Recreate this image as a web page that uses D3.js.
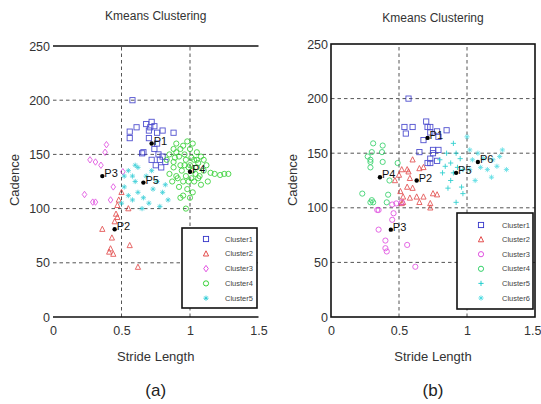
<!DOCTYPE html>
<html><head><meta charset="utf-8">
<script src="https://cdn.jsdelivr.net/npm/d3@7"></script>
<style>body{margin:0;background:#fff}svg{display:block}text{font-family:"Liberation Sans",Arial,sans-serif}</style>
</head><body>
<script>
// ---------- data (Stride Length, Cadence) ----------
const xTicks = [0, 0.5, 1, 1.5];
const yTicks = [0, 50, 100, 150, 200, 250];

// (a) five clusters
const aCluster1 = [[0.58,200],[0.56,171],[0.56,165],[0.61,175],[0.68,178],[0.72,180],[0.70,172],[0.74,176],[0.76,170],[0.80,172],[0.88,170],[0.66,152],[0.74,155],[0.77,150],[0.78,145],[0.80,148],[0.82,143],[0.75,140],[0.72,145],[0.79,138],[0.70,165],[0.76,160],[0.65,151],[0.71,175]];
const aCluster2 = [[0.47,103],[0.46,95],[0.47,92],[0.45,88],[0.36,81],[0.43,73],[0.42,63],[0.44,58],[0.41,60],[0.56,66],[0.62,46],[0.48,108],[0.50,115],[0.55,100]];
const aCluster3 = [[0.39,159],[0.38,152],[0.27,145],[0.31,143],[0.23,113],[0.31,106],[0.42,108],[0.51,134],[0.29,106],[0.44,120],[0.35,140]];
const aCluster4 = [[0.85,150],[0.88,155],[0.90,160],[0.92,148],[0.95,158],[0.98,162],[1.00,155],[1.02,160],[1.05,152],[1.08,148],[1.10,145],[1.03,145],[0.97,145],[0.93,140],[0.88,138],[0.85,132],[0.87,125],[0.90,130],[0.92,120],[0.95,125],[0.97,130],[1.00,140],[1.02,135],[1.05,138],[1.07,130],[1.10,135],[1.12,140],[1.15,133],[1.18,132],[1.22,131],[1.25,132],[1.28,132],[1.13,125],[1.08,122],[1.03,125],[0.98,118],[0.95,112],[0.93,110],[1.00,110],[1.02,115],[0.97,100],[0.88,143],[0.83,145],[0.90,152],[1.05,145],[0.99,138],[0.94,135],[1.06,128],[0.91,128],[1.01,128],[0.96,150],[1.04,132],[0.99,125],[0.93,155],[1.01,147],[0.89,147],[0.96,140],[1.06,142]];
const aCluster5 = [[0.55,135],[0.58,130],[0.62,138],[0.60,125],[0.52,120],[0.55,112],[0.58,108],[0.62,115],[0.66,110],[0.70,105],[0.73,118],[0.76,125],[0.80,115],[0.84,108],[0.78,102],[0.68,130],[0.72,135],[0.50,105],[0.65,100],[0.52,130],[0.60,140],[0.82,122]];
const aCentroids = [["P1",0.72,160],["P2",0.45,81],["P3",0.36,130],["P4",1.0,134],["P5",0.66,124]];

// (b) six clusters
const bCluster1 = [[0.57,200],[0.54,174],[0.55,168],[0.60,174],[0.70,179],[0.73,174],[0.78,170],[0.65,151],[0.75,150],[0.78,143],[0.73,145],[0.71,141],[0.85,171],[0.68,162],[0.73,169],[0.79,165],[0.71,174],[0.75,153],[0.79,153],[0.73,141]];
const bCluster2 = [[0.60,144],[0.68,137],[0.56,135],[0.52,135],[0.57,133],[0.58,127],[0.56,119],[0.51,115],[0.53,110],[0.58,109],[0.63,110],[0.60,118],[0.68,110],[0.75,113],[0.78,112],[0.73,104],[0.65,136],[0.52,104],[0.73,100],[0.65,105],[0.53,105],[0.47,125],[0.50,130]];
const bCluster3 = [[0.35,98],[0.45,103],[0.46,95],[0.45,89],[0.35,80],[0.40,70],[0.40,63],[0.41,60],[0.56,66],[0.62,46],[0.48,104],[0.52,105],[0.34,98]];
const bCluster4 = [[0.31,159],[0.30,151],[0.27,147],[0.29,142],[0.375,151],[0.38,142],[0.29,144],[0.29,137],[0.38,157],[0.23,113],[0.30,107],[0.31,105],[0.42,112],[0.43,125],[0.49,141],[0.29,105],[0.41,105]];
const bCluster5 = [[0.90,159],[0.85,150],[0.80,144],[0.88,141],[0.82,132],[0.88,125],[0.96,119],[0.97,113],[0.97,135],[0.93,137],[0.90,132],[0.86,118],[0.92,105],[0.84,138],[0.95,145],[0.92,150]];
const bCluster6 = [[1.00,165],[1.02,153],[1.04,144],[1.10,137],[1.15,135],[1.19,144],[1.24,147],[1.29,135],[1.26,153],[1.18,128],[1.02,135],[1.08,150],[1.12,145],[1.06,125],[1.22,138]];
const bCentroids = [["P1",0.71,164],["P2",0.63,125],["P3",0.44,80],["P4",0.36,128],["P5",0.92,132],["P6",1.08,142]];

const legendA = ["Cluster1","Cluster2","Cluster3","Cluster4","Cluster5"];
const legendB = ["Cluster1","Cluster2","Cluster3","Cluster4","Cluster5","Cluster6"];

// ---------- drawing ----------
const svg = d3.select("body").append("svg").attr("width",541).attr("height",404);

function marker(g, shape, color, x, y){
  const s = 2.6;
  if(shape==="square"){
    g.append("rect").attr("x",x-s).attr("y",y-s).attr("width",2*s).attr("height",2*s)
      .attr("fill","none").attr("stroke",color).attr("stroke-width",0.9);
  } else if(shape==="circle"){
    g.append("circle").attr("cx",x).attr("cy",y).attr("r",s)
      .attr("fill","none").attr("stroke",color).attr("stroke-width",0.9);
  } else if(shape==="triangle"){
    g.append("path").attr("d",`M${x},${y-s-0.4}L${x+s},${y+s-0.4}L${x-s},${y+s-0.4}Z`)
      .attr("fill","none").attr("stroke",color).attr("stroke-width",0.9);
  } else if(shape==="diamond"){
    g.append("path").attr("d",`M${x},${y-s-0.6}L${x+s-0.3},${y}L${x},${y+s+0.6}L${x-s+0.3},${y}Z`)
      .attr("fill","none").attr("stroke",color).attr("stroke-width",0.9);
  } else if(shape==="plus"){
    g.append("path").attr("d",`M${x-s},${y}H${x+s}M${x},${y-s}V${y+s}`)
      .attr("fill","none").attr("stroke",color).attr("stroke-width",0.9);
  } else if(shape==="star"){
    g.append("path").attr("d",`M${x-s},${y}H${x+s}M${x},${y-s}V${y+s}M${x-s*0.7},${y-s*0.7}L${x+s*0.7},${y+s*0.7}M${x-s*0.7},${y+s*0.7}L${x+s*0.7},${y-s*0.7}`)
      .attr("fill","none").attr("stroke",color).attr("stroke-width",0.8);
  }
}

function panel(cfg){
  const x = d3.scaleLinear().domain([0,1.5]).range(cfg.xr);
  const y = d3.scaleLinear().domain([0,250]).range(cfg.yr);
  const g = svg.append("g");
  // grid
  g.selectAll(".hg").data([50,100,150,200]).enter().append("line")
    .attr("x1",cfg.xr[0]).attr("x2",cfg.xr[1]).attr("y1",d=>y(d)).attr("y2",d=>y(d))
    .attr("stroke","#555").attr("stroke-width",1).attr("stroke-dasharray","3.5,3");
  g.selectAll(".vg").data([0.5,1]).enter().append("line")
    .attr("y1",cfg.yr[0]).attr("y2",cfg.yr[1]).attr("x1",d=>x(d)).attr("x2",d=>x(d))
    .attr("stroke","#555").attr("stroke-width",1).attr("stroke-dasharray","3.5,3");
  // axes frame
  if(cfg.box){
    g.append("rect").attr("x",cfg.xr[0]).attr("y",cfg.yr[1]).attr("width",cfg.xr[1]-cfg.xr[0]).attr("height",cfg.yr[0]-cfg.yr[1])
      .attr("fill","none").attr("stroke","#111").attr("stroke-width",1.6);
  } else {
    [0,250].forEach(v=>g.append("line").attr("x1",cfg.xr[0]).attr("x2",cfg.xr[1]).attr("y1",y(v)).attr("y2",y(v))
      .attr("stroke","#111").attr("stroke-width",1.6));
  }
  // tick labels via axes
  const xa = g.append("g").attr("transform",`translate(0,${cfg.yr[0]})`)
    .call(d3.axisBottom(x).tickValues(xTicks).tickFormat(d3.format("")).tickSize(0).tickPadding(9));
  const ya = g.append("g").attr("transform",`translate(${cfg.xr[0]},0)`)
    .call(d3.axisLeft(y).tickValues(yTicks).tickSize(0).tickPadding(3));
  [xa,ya].forEach(a=>{a.select(".domain").remove();
    a.selectAll("text").attr("font-size",12.5).attr("fill","#333").attr("font-family","Liberation Sans, Arial, sans-serif");});
  if(cfg.box){
    // keep the last x tick label inside the window
    xa.selectAll(".tick").filter(d=>d===1.5).select("text").attr("text-anchor","end").attr("x",6);
  }
  // points
  const pg = g.append("g").attr("opacity",0.85);
  cfg.series.forEach(s=>{ s.data.forEach(p=>marker(pg, s.shape, s.color, x(p[0]), y(p[1]))); });
  // centroids
  cfg.cent.forEach(c=>{
    g.append("circle").attr("cx",x(c[1])).attr("cy",y(c[2])).attr("r",2.2).attr("fill","#000");
    g.append("text").attr("x",x(c[1])+2).attr("y",y(c[2])+1).attr("font-size",11).attr("fill","#111").text(c[0]);
  });
  // title / labels
  const cx = (cfg.xr[0]+cfg.xr[1])/2;
  g.append("text").attr("x",cx).attr("y",cfg.titleY).attr("text-anchor","middle").attr("font-size",12).attr("fill","#333").text("Kmeans Clustering");
  g.append("text").attr("x",cx).attr("y",361).attr("text-anchor","middle").attr("font-size",13).attr("fill","#333").text("Stride Length");
  g.append("text").attr("transform",`translate(${cfg.cadX},180) rotate(-90)`).attr("text-anchor","middle").attr("font-size",13).attr("fill","#333").text("Cadence");
  g.append("text").attr("x",cx).attr("y",396).attr("text-anchor","middle").attr("font-size",17).attr("font-family","Liberation Serif, serif").attr("fill","#222").text(cfg.tag);
  // legend
  const L = cfg.legend;
  g.append("rect").attr("x",L.x).attr("y",L.y).attr("width",L.w).attr("height",L.h).attr("fill","#fff").attr("stroke","#111").attr("stroke-width",1.6);
  cfg.series.forEach((s,i)=>{
    const ry = L.row0 + i*L.step;
    marker(g, s.shape, s.color, L.mx, ry);
    g.append("text").attr("x",L.tx).attr("y",ry+2.5).attr("font-size",7.5).attr("fill","#444").text(L.names[i]);
  });
}

panel({xr:[53,258.5], yr:[317,46], box:false, titleY:20, cadX:19, tag:"(a)",
  series:[{data:aCluster1,shape:"square",color:"#3434c8"},{data:aCluster2,shape:"triangle",color:"#e03a3a"},
          {data:aCluster3,shape:"diamond",color:"#dc3cdc"},{data:aCluster4,shape:"circle",color:"#1fcc1f"},
          {data:aCluster5,shape:"star",color:"#1ec8d2"}],
  cent:aCentroids,
  legend:{x:182,y:228,w:75,h:80,row0:239,step:14.8,mx:206,tx:225,names:legendA}});

panel({xr:[331,535], yr:[317,44], box:true, titleY:22, cadX:297, tag:"(b)",
  series:[{data:bCluster1,shape:"square",color:"#3434c8"},{data:bCluster2,shape:"triangle",color:"#e03a3a"},
          {data:bCluster3,shape:"circle",color:"#dc3cdc"},{data:bCluster4,shape:"circle",color:"#1fcc5a"},
          {data:bCluster5,shape:"plus",color:"#10c8c8"},{data:bCluster6,shape:"star",color:"#40d8e0"}],
  cent:bCentroids,
  legend:{x:457,y:213,w:76,h:96,row0:225,step:14.6,mx:481,tx:502,names:legendB}});
</script>
</body></html>
